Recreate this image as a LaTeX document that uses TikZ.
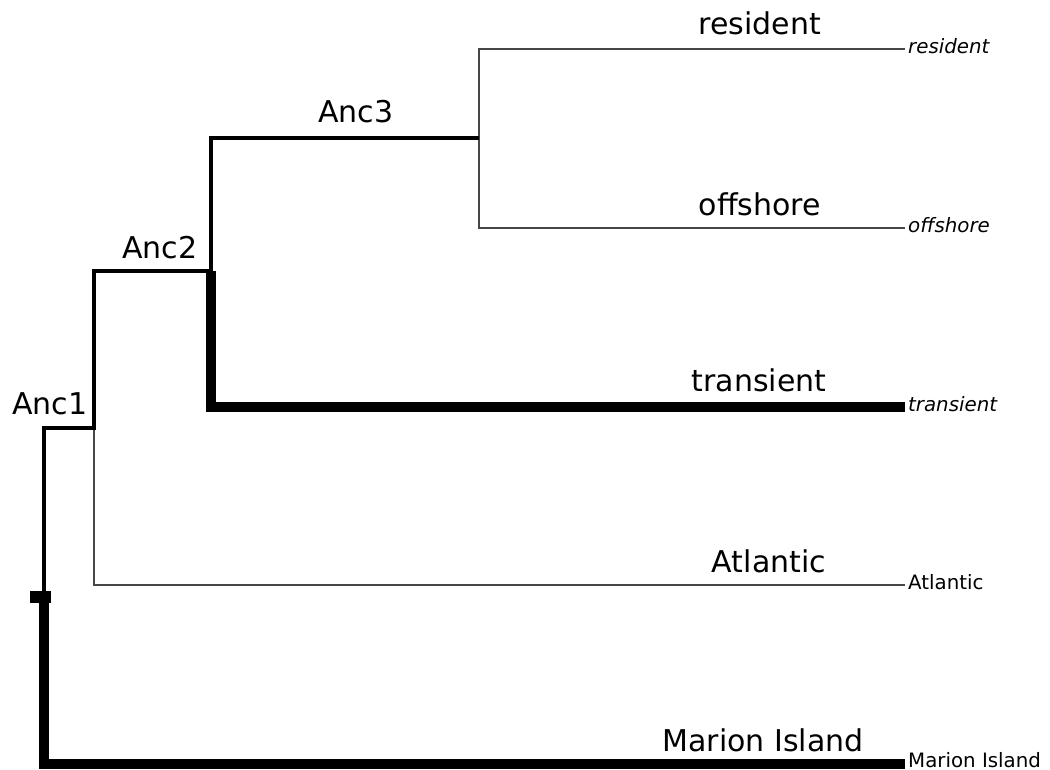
\documentclass[tikz,border=0pt]{standalone}
\usepackage{fontspec}
\setmainfont{DejaVu Sans}
\begin{document}
\begin{tikzpicture}[x=1pt,y=-1pt,
  brthin/.style={draw=black!72,line width=1.3pt,line join=miter},
  brmid/.style={draw=black,line width=4.8pt,line join=miter},
  brthick/.style={draw=black,line width=10pt,line join=miter},
  biglab/.style={anchor=base,inner sep=0pt,font=\fontsize{30}{36}\selectfont},
  tiplab/.style={anchor=base west,inner sep=0pt,font=\fontsize{19.8}{23}\selectfont},
  ancmark/.style={fill=black,inner sep=0pt,minimum width=21pt,minimum height=12pt}]
\useasboundingbox (0,0) rectangle (1050,770);
% tree nodes
\coordinate (root) at (44,597);
\coordinate (n1) at (94,428);
\coordinate (n2) at (211,271);
\coordinate (n3) at (479,138);
% tips
\coordinate (tRes) at (905,49);
\coordinate (tOff) at (905,228);
\coordinate (tTra) at (905,407);
\coordinate (tAtl) at (905,585);
\coordinate (tMar) at (905,764);
% branches
\draw[brthin] (n1) |- (tAtl);
\draw[brthin] (tRes) -| (n3) |- (tOff);
\draw[brmid] (n2) -- (n2 -| n1) -- (n1) -- (n1 -| root) -- (root);
\draw[brmid] (n2) |- (n3);
\draw[brthick] (n2) |- (tTra);
\draw[brthick] (root) |- (tMar);
\node[ancmark] (mk) at (40.5,597) {};
% branch labels
\node[biglab] (bRes) at (760,35) {resident};
\node[biglab] (bOff) at (760,216) {offshore};
\node[biglab] (bTra) at (759,391) {transient};
\node[biglab] (bAtl) at (769,572) {Atlantic};
\node[biglab] (bMar) at (763,751) {Marion Island};
\node[biglab] (a3) at (356,122.5) {Anc3};
\node[biglab] (a2) at (160,259) {Anc2};
\node[biglab] (a1) at (50,414) {Anc1};
% tip labels
\node[tiplab] (lRes) at (908,53.5) {\itshape resident};
\node[tiplab] (lOff) at (908,232.5) {\itshape offshore};
\node[tiplab] (lTra) at (908,411.5) {\itshape transient};
\node[tiplab] (lAtl) at (908,589.5) {Atlantic};
\node[tiplab] (lMar) at (908,767.3) {Marion Island};
\end{tikzpicture}
\end{document}
